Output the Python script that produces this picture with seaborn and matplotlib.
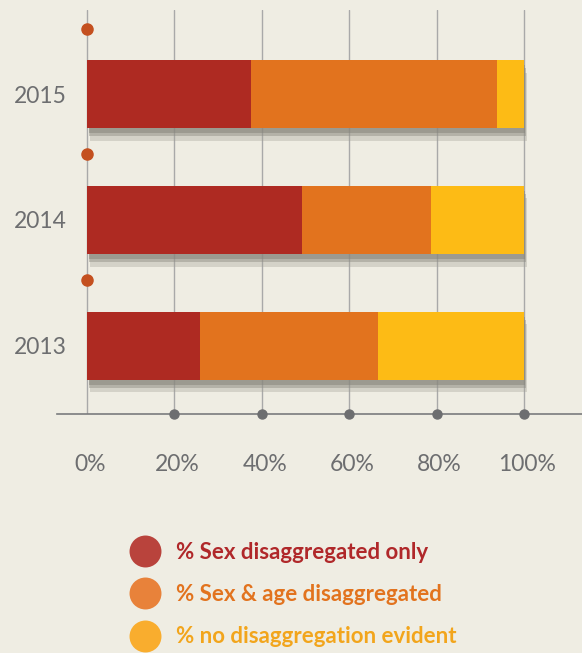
import numpy as np
import matplotlib
matplotlib.use("Agg")
import matplotlib.pyplot as plt
from matplotlib import patheffects as pe
from matplotlib.lines import Line2D
from matplotlib.transforms import ScaledTranslation
import seaborn as sns

# data (percent of each year)
years = ["2015", "2014", "2013"]
sex_only = [37.6, 49.1, 25.9]
sex_age = [56.2, 29.6, 40.6]
no_disagg = [6.2, 21.3, 33.5]
legend_labels = ["% Sex disaggregated only", "% Sex & age disaggregated",
                 "% no disaggregation evident"]
xticks = [0, 20, 40, 60, 80, 100]

bar_colors = ["#ae2a22", "#e2731e", "#fdbb15"]
dot_colors = ["#b9433c", "#e8823a", "#f9ad2e"]
text_colors = ["#b0282a", "#e2731e", "#f2a51c"]
bg = "#efede3"
grey = "#6d6e70"

sns.set_style("white")
plt.rcParams["font.family"] = ["Lato", "DejaVu Sans"]

fig = plt.figure(figsize=(5.82, 6.53), dpi=100, facecolor=bg)
ax = fig.add_axes([57 / 582, 1 - 414 / 653, 1 - 57 / 582, 404 / 653])
ax.set_facecolor("none")

# stacked by overlaying cumulative totals
cum = np.cumsum(np.array([sex_only, sex_age, no_disagg]), axis=0)
for layer in (2, 1, 0):
    n_before = len(ax.patches)
    sns.barplot(x=cum[layer], y=years, orient="y", color=bar_colors[layer],
                saturation=1, width=0.54, ax=ax, zorder=3, linewidth=0)
    if layer == 2:
        # soft drop shadow under the full bar
        for p in ax.patches[n_before:]:
            p.set_path_effects([
                pe.SimplePatchShadow(offset=(2, -9), shadow_rgbFace="#a3a196", alpha=0.35),
                pe.SimplePatchShadow(offset=(1.5, -6), shadow_rgbFace="#8f8d83", alpha=0.45),
                pe.SimplePatchShadow(offset=(1, -3.5), shadow_rgbFace="#85837a", alpha=0.5),
                pe.Normal()])

ax.set_xlim(-6.9, 113.3)
ax.set_ylim(2.54, -0.667)
ax.set_xlabel("")
ax.set_ylabel("")
ax.set_xticks(xticks)
ax.set_xticklabels([f"{t}%" for t in xticks])
ax.grid(axis="x", color="#a9a9a9", lw=1)
ax.grid(axis="y", visible=False)
ax.set_axisbelow(True)

for s in ["top", "right", "left"]:
    ax.spines[s].set_visible(False)
ax.spines["bottom"].set_color("#7a7b7d")
ax.spines["bottom"].set_linewidth(1.2)

ax.tick_params(axis="x", length=13, width=1, color="#a9a9a9", pad=16,
               labelsize=16.5, labelcolor=grey)
ax.tick_params(axis="y", length=0, pad=-7, labelsize=16.5, labelcolor=grey)
# percent labels sit a little right of their ticks in the original
shift = ScaledTranslation(3 / 100, 0, fig.dpi_scale_trans)
for lbl in ax.get_xticklabels():
    lbl.set_transform(lbl.get_transform() + shift)

# dots on the axis line
ax.scatter(xticks[1:], [0] * (len(xticks) - 1), transform=ax.get_xaxis_transform(),
           s=42, color=grey, zorder=6, clip_on=False)
# little orange dots above each bar
ax.scatter([0] * len(years), np.arange(len(years)) - 0.52, s=64, color="#c4501f",
           zorder=6, clip_on=False)

handles = [Line2D([], [], marker="o", ls="", markersize=23, markerfacecolor=c,
                  markeredgecolor="none") for c in dot_colors]
leg = fig.legend(handles, legend_labels, loc="upper left",
                 bbox_to_anchor=(118 / 582, 1 - 531 / 653), frameon=False,
                 prop={"weight": "bold", "size": 16}, labelcolor=text_colors,
                 handlelength=1.4, handletextpad=0.7, labelspacing=0.95, borderpad=0)

fig.savefig("out.png", dpi=100, facecolor=bg)
